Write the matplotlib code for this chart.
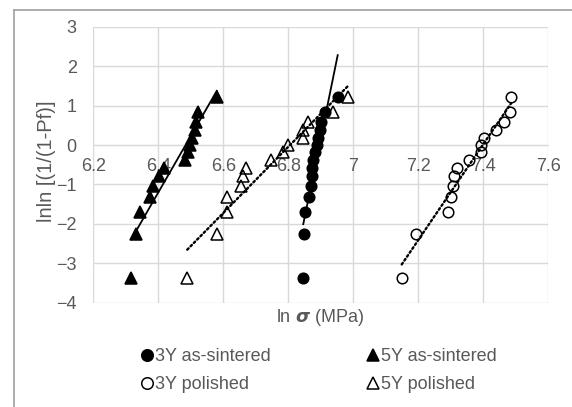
import numpy as np
import matplotlib
matplotlib.use("Agg")
import matplotlib.pyplot as plt
from matplotlib.lines import Line2D

plt.rcParams['font.family'] = ['Liberation Sans', 'DejaVu Sans']
plt.rcParams['mathtext.fontset'] = 'dejavusans'

# ---- data (ln sigma, lnln[1/(1-Pf)]) ----
y_3y_sint = [-3.38, -2.25, -1.70, -1.33, -1.03, -0.78, -0.57, -0.37, -0.18, 0.00, 0.19, 0.38, 0.58, 0.83, 1.22]
x_3y_sint = [6.846, 6.847, 6.852, 6.865, 6.870, 6.872, 6.874, 6.877, 6.882, 6.887, 6.892, 6.897, 6.902, 6.912, 6.952]

y_5y_sint = [-3.38, -2.25, -1.70, -1.33, -1.03, -0.78, -0.57, -0.37, -0.18, 0.00, 0.19, 0.38, 0.58, 0.83, 1.22]
x_5y_sint = [6.317, 6.332, 6.344, 6.373, 6.383, 6.402, 6.418, 6.482, 6.490, 6.497, 6.505, 6.512, 6.517, 6.521, 6.580]

y_3y_pol = [-3.38, -2.25, -1.70, -1.33, -1.03, -0.78, -0.57, -0.37, -0.18, 0.00, 0.19, 0.38, 0.58, 0.83, 1.22]
x_3y_pol = [7.149, 7.192, 7.292, 7.301, 7.306, 7.310, 7.318, 7.357, 7.393, 7.394, 7.402, 7.438, 7.464, 7.482, 7.486]

y_5y_pol = [-3.38, -2.25, -1.70, -1.33, -1.03, -0.78, -0.57, -0.37, -0.18, 0.00, 0.19, 0.38, 0.58, 0.83, 1.22]
x_5y_pol = [6.489, 6.582, 6.610, 6.612, 6.653, 6.660, 6.670, 6.746, 6.785, 6.800, 6.844, 6.846, 6.862, 6.937, 6.983]

labels = ["3Y as-sintered", "3Y polished", "5Y as-sintered", "5Y polished"]
x_ticks = [6.2, 6.4, 6.6, 6.8, 7.0, 7.2, 7.4, 7.6]
x_tick_labels = ["6.2", "6.4", "6.6", "6.8", "7", "7.2", "7.4", "7.6"]
y_ticks = [-4, -3, -2, -1, 0, 1, 2, 3]

TXT = '#595959'
GRID = '#D9D9D9'
FS = 13

W, H = 572, 407
fig = plt.figure(figsize=(W / 100, H / 100), dpi=100)
L, R, T, B = 93.3, 548.3, 26.8, 302.7
ax = fig.add_axes([L / W, 1 - B / H, (R - L) / W, (B - T) / H])
ax.set_xlim(6.2, 7.6)
ax.set_ylim(-4, 3)
ax.set_xticks(x_ticks)
ax.set_xticklabels(x_tick_labels)
ax.set_yticks(y_ticks)
ax.grid(True, color=GRID, lw=1.0, zorder=0)
ax.set_axisbelow(True)
for s in ['top', 'right', 'left']:
    ax.spines[s].set_visible(False)
ax.spines['bottom'].set_position(('data', 0))
ax.spines['bottom'].set_color(GRID)
ax.tick_params(axis='both', length=0, labelsize=FS, labelcolor=TXT)
ax.tick_params(axis='x', pad=9.5)
ax.tick_params(axis='y', pad=12)

series = [
    (x_3y_sint, y_3y_sint, 'o', 'black', '-'),
    (x_3y_pol, y_3y_pol, 'o', 'none', (0, (0.8, 1.2))),
    (x_5y_sint, y_5y_sint, '^', 'black', '-'),
    (x_5y_pol, y_5y_pol, '^', 'none', (0, (0.8, 1.2))),
]
handles = []
for (xs, ys, mk, fc, ls), lab in zip(series, labels):
    xs = np.asarray(xs); ys = np.asarray(ys)
    ax.plot(xs, ys, linestyle='none', marker=mk, ms=7.6 if mk == 'o' else 8.0,
            mfc=fc, mec='black', mew=1.1, zorder=3, clip_on=False)
    k, b = np.polyfit(xs, ys, 1)
    xl = np.array([xs.min(), xs.max()])
    ax.plot(xl, k * xl + b, color='black', lw=1.3 if ls == '-' else 1.7,
            linestyle=ls, zorder=4, dash_capstyle='round')
    handles.append(Line2D([], [], linestyle='none', marker=mk, ms=8.3,
                          mfc=fc, mec='black', mew=1.1, label=lab))

fig.text(46 / W, 1 - 161 / H, "lnln [(1/(1-Pf)]", rotation=90,
         ha='center', va='center', fontsize=14.5, color=TXT)
fig.text(320 / W, 1 - 318 / H, r"ln $\boldsymbol{\sigma}$ (MPa)",
         ha='center', va='center', fontsize=FS, color=TXT)

fig.legend(handles=handles, ncol=2, loc='upper left',
           bbox_to_anchor=(140.5 / W, 1 - 348 / H), frameon=False,
           fontsize=FS, labelcolor=TXT, handlelength=0.7, handletextpad=0.1,
           columnspacing=5.3, labelspacing=0.62, borderpad=0, borderaxespad=0)

# outer chart frame (left and top edges visible)
fig.add_artist(Line2D([14 / W, 14 / W], [0, 1 - 9.5 / H], transform=fig.transFigure,
                      color='#A6A6A6', lw=1.3))
fig.add_artist(Line2D([14 / W, 1], [1 - 9.5 / H, 1 - 9.5 / H], transform=fig.transFigure,
                      color='#A6A6A6', lw=1.3))

fig.savefig('out.png', dpi=100)
